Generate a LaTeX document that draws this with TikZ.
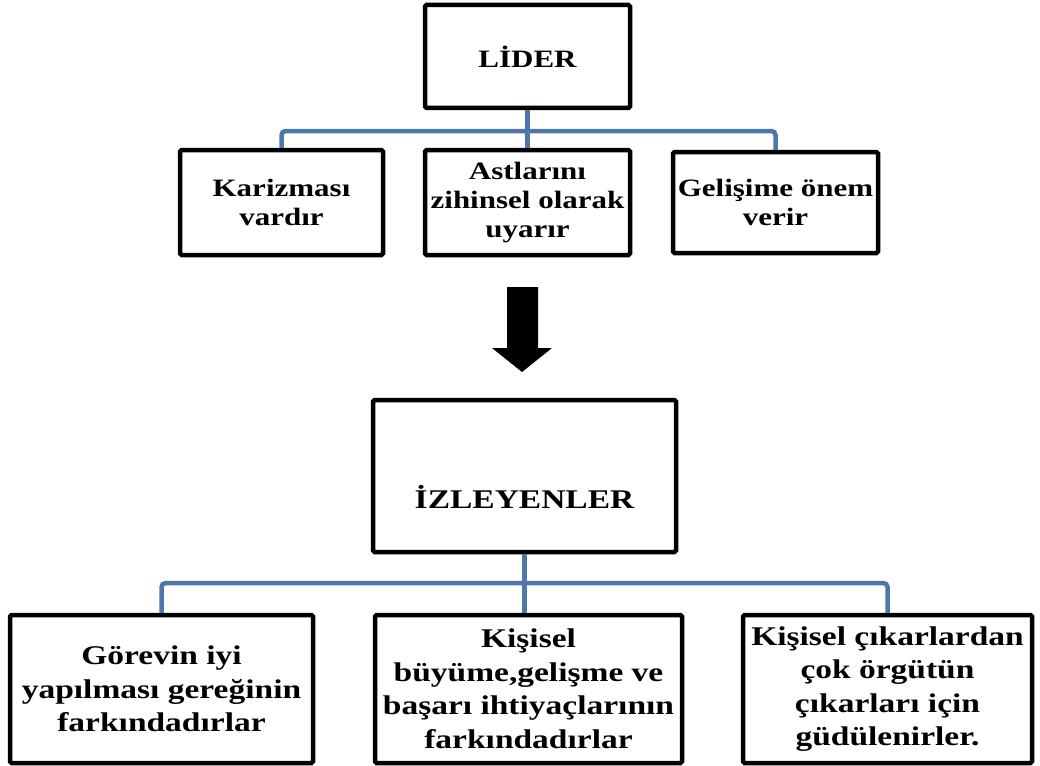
\documentclass[tikz,border=0pt]{standalone}
\usepackage{fontspec}
\setmainfont{Liberation Serif}[FakeStretch=1.24]
\definecolor{connblue}{RGB}{79,118,170}
\begin{document}
\begin{tikzpicture}[x=1pt,y=-1pt,
  box/.style={draw=black, line width=4.5pt, rounded corners=1.5pt, fill=white, inner sep=0pt, align=center, font=\bfseries},
  toptxt/.style={font=\bfseries\fontsize{25}{29}\selectfont},
  bottxt/.style={font=\bfseries\fontsize{27}{33.5}\selectfont},
  conn/.style={draw=connblue, line width=4.5pt, rounded corners=4pt},
  bigarrow/.style={fill=black, draw=none}
]
\useasboundingbox (0,0) rectangle (1040,765);
% top level
\node[box, minimum width=205, minimum height=103, font=\bfseries\fontsize{25}{29}\selectfont] (lider) at (527.5,56.5) {LİDER};
\node[box, minimum width=203, minimum height=105, toptxt] (kar) at (281.5,202.5) {Karizması\\vardır};
\node[box, minimum width=205, minimum height=105, toptxt] (ast) at (527.5,202.5) {Astlarını\\zihinsel olarak\\uyarır};
\node[box, minimum width=205, minimum height=101, toptxt] (gel) at (775.5,202.5) {Gelişime önem\\verir};
\coordinate (busA) at (0,131);
\draw[conn] (kar.north) -- (kar.north |- busA) -- (gel.north |- busA) -- (gel.north);
\draw[conn] (lider.south) -- (ast.north);
% block arrow
\fill[bigarrow] (507,287) -- (538,287) -- (538,348) -- (552,348) -- (522,372) -- (492,348) -- (507,348) -- cycle;
% followers
\node[box, minimum width=303, minimum height=152] (izl) at (524.5,476) {};
\node[font=\bfseries\fontsize{27}{31}\selectfont, inner sep=0pt] (izltxt) at (524.5,497) {İZLEYENLER};
\node[box, minimum width=303, minimum height=148, bottxt] (gor) at (161.5,689) {Görevin iyi\\yapılması gereğinin\\farkındadırlar};
\node[box, minimum width=307, minimum height=148, bottxt] (kis) at (528.5,689) {Kişisel\\büyüme,gelişme ve\\başarı ihtiyaçlarının\\farkındadırlar};
\node[box, minimum width=289, minimum height=148, bottxt] (cik) at (887.5,689) {Kişisel çıkarlardan\\çok örgütün\\çıkarları için\\güdülenirler.};
\coordinate (busB) at (0,583);
\draw[conn] (gor.north) -- (gor.north |- busB) -- (cik.north |- busB) -- (cik.north);
\draw[conn] (izl.south) -- (izl.south |- kis.north);
\end{tikzpicture}
\end{document}
